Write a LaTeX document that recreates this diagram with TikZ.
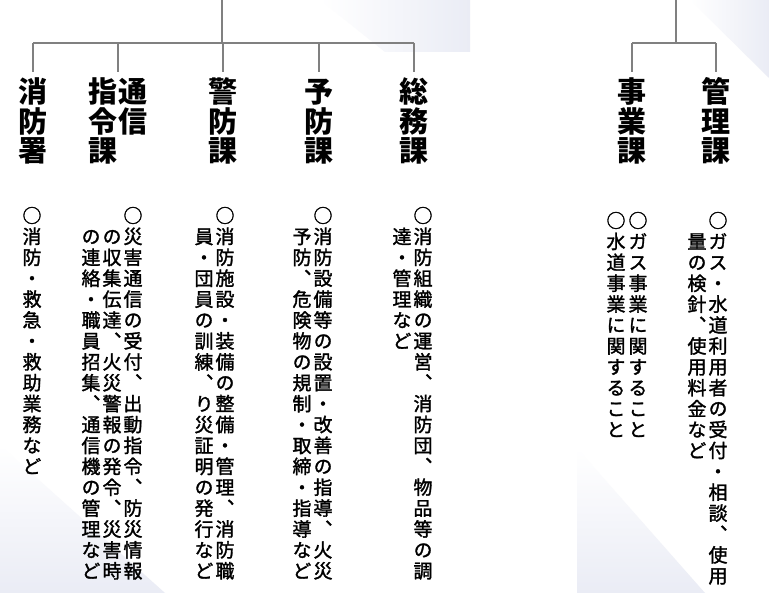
\documentclass[tikz,border=0pt]{standalone}
\usepackage{fontspec}
\newfontfamily\jbody[Vertical=Alternates,FakeBold=1.6]{Noto Sans CJK JP}
\newfontfamily\jtitle[Vertical=Alternates]{Noto Sans CJK JP}
\definecolor{bgc}{RGB}{234,236,245}
\definecolor{linec}{RGB}{128,128,128}
\newdimen\vcw
\def\vloop#1{\ifx\relax#1\else\vcell{#1}\expandafter\vloop\fi}
\newcommand\vcell[1]{\hbox to\vcw{\hss\vrule height\vht depth\vdp width0pt #1\hss}}
\newcommand\bodycol[1]{{\jbody\fontsize{19pt}{19pt}\selectfont\def\vht{17.7pt}\def\vdp{3.2pt}\vcw=21pt\vtop{\offinterlineskip\vloop#1\relax}}}
\newcommand\titlecol[1]{{\jtitle\bfseries\fontsize{29pt}{29pt}\selectfont\def\vht{25.8pt}\def\vdp{3.7pt}\vcw=30pt\vtop{\offinterlineskip\vloop#1\relax}}}
\tikzset{
  body/.style={anchor=north, inner sep=0pt, outer sep=0pt},
  ttl/.style={anchor=north, inner sep=0pt, outer sep=0pt},
  conn/.style={draw=linec, line width=1.8pt},
}
\begin{document}
\begin{tikzpicture}[x=1pt,y=-1pt]
\useasboundingbox (0,0) rectangle (769,593);
\fill[white] (0,0) rectangle (769,593);
% background tints
\shade[left color=white, right color=bgc] (320,0) -- (470,0) -- (470,52) -- (385,52) -- cycle;
\shade[top color=white, bottom color=bgc] (0,445) -- (165,593) -- (0,593) -- cycle;
\shade[left color=white, right color=bgc] (690,0) -- (769,0) -- (769,78) -- cycle;
\shade[top color=white, bottom color=bgc] (577,448) -- (705,593) -- (577,593) -- cycle;

% ---------- left organisation ----------
\node[ttl] (shobosho) at (33,77) {\titlecol{消防署}};
\node[ttl] (tsushin) at (118,77) {\titlecol{指令課}\titlecol{通信}};
\node[ttl] (keibo) at (223,77) {\titlecol{警防課}};
\node[ttl] (yobo) at (319,77) {\titlecol{予防課}};
\node[ttl] (somu) at (414,77) {\titlecol{総務課}};

\coordinate (topL) at (222,0);
\coordinate (junL) at (222,43);
\draw[conn] (topL) -- (junL);
\draw[conn] (shobosho.north |- junL) -- (somu.north |- junL);
\foreach \n in {shobosho,tsushin,keibo,yobo,somu}
  \draw[conn] (\n.north |- junL) -- ([yshift=5pt]\n.north);

\node[body] (b1) at (32,205) {\bodycol{○消防・救急・救助業務など}};
\node[body] (b2a) at (133,205) {\bodycol{○災害通信の受付、出動指令、防災情報}};
\node[body] (b2b) at (112,226) {\bodycol{の収集伝達、火災警報の発令、災害時}};
\node[body] (b2c) at (91,226) {\bodycol{の連絡・職員招集、通信機の管理など}};
\node[body] (b3a) at (225,205) {\bodycol{○消防施設・装備の整備・管理、消防職}};
\node[body] (b3b) at (204,226) {\bodycol{員・団員の訓練、り災証明の発行など}};
\node[body] (b4a) at (323,205) {\bodycol{○消防設備等の設置・改善の指導、火災}};
\node[body] (b4b) at (302,226) {\bodycol{予防、危険物の規制・取締・指導など}};
\node[body] (b5a) at (423,205) {\bodycol{○消防組織の運営、消防団、物品等の調}};
\node[body] (b5b) at (402,226) {\bodycol{達・管理など}};

% ---------- right organisation ----------
\node[ttl] (jigyo) at (632,77) {\titlecol{事業課}};
\node[ttl] (kanri) at (716,77) {\titlecol{管理課}};
\coordinate (topR) at (676,0);
\coordinate (junR) at (676,43);
\draw[conn] (topR) -- (junR);
\draw[conn] (jigyo.north |- junR) -- (kanri.north |- junR);
\foreach \n in {jigyo,kanri}
  \draw[conn] (\n.north |- junR) -- ([yshift=5pt]\n.north);

\node[body] (r1a) at (718,210) {\bodycol{○ガス・水道利用者の受付・相談、使用}};
\node[body] (r1b) at (697,231) {\bodycol{量の検針、使用料金など}};
\node[body] (r2a) at (638,210) {\bodycol{○ガス事業に関すること}};
\node[body] (r2b) at (616,210) {\bodycol{○水道事業に関すること}};
\end{tikzpicture}
\end{document}
